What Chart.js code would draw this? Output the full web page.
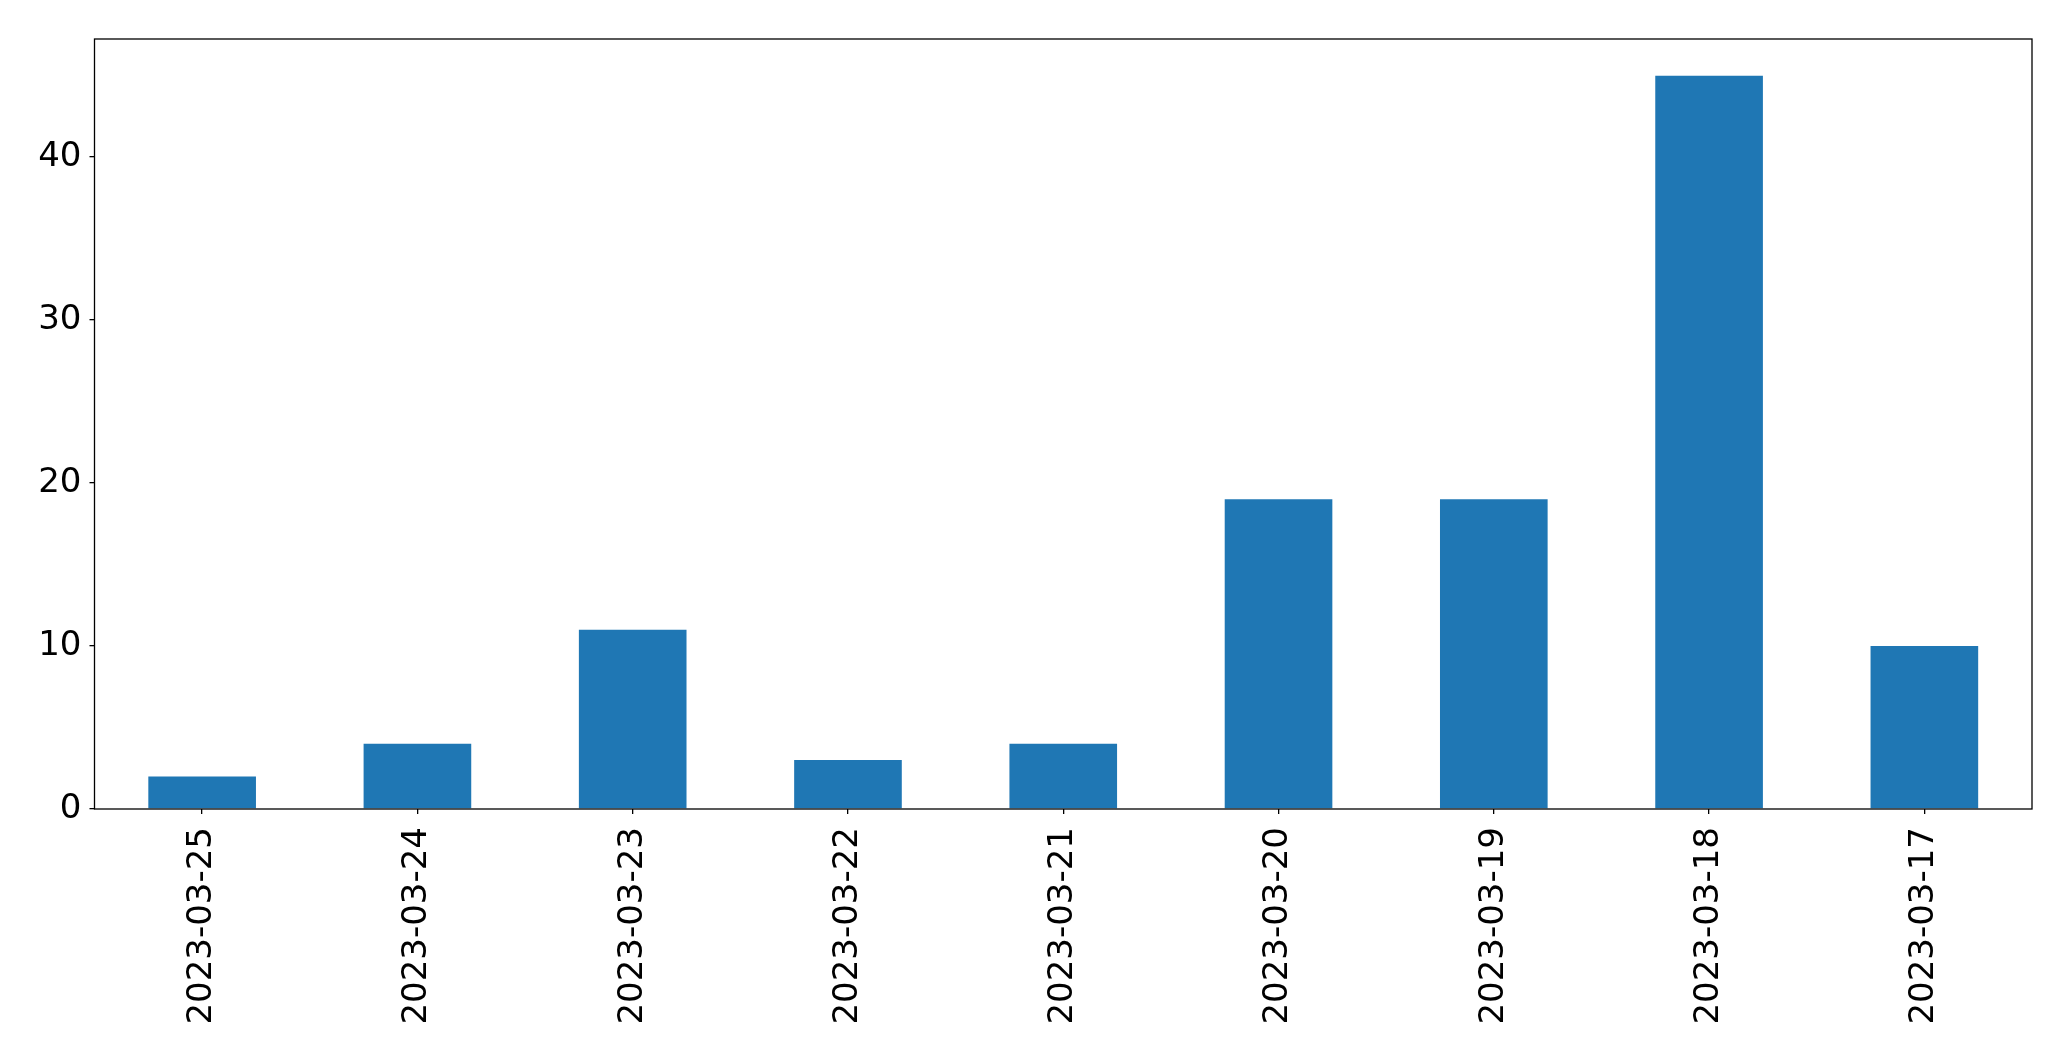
<!DOCTYPE html>
<html>
<head>
<meta charset="utf-8">
<title>Daily counts</title>
<script src="https://cdn.jsdelivr.net/npm/chart.js@4.4.0/dist/chart.umd.min.js"></script>
<style>
    html, body { margin: 0; padding: 0; background: #fff; }
    #wrap { width: 2071px; height: 1061px; }
</style>
</head>
<body>
<div id="wrap"><canvas id="chart" width="2071" height="1061"></canvas></div>
<script>
// --- DATA ---
const dates = ['2023-03-25', '2023-03-24', '2023-03-23', '2023-03-22', '2023-03-21',
               '2023-03-20', '2023-03-19', '2023-03-18', '2023-03-17'];
const counts = [2, 4, 11, 3, 4, 19, 19, 45, 10];
const yTicks = [0, 10, 20, 30, 40];
const yMax = 47.25;

// --- STYLE ---
const BAR_COLOR = '#1f77b4';
const FONT = { family: '"DejaVu Sans", sans-serif', size: 34 };

// Draws the full box round the plot area (matplotlib style spines)
const framePlugin = {
    id: 'frame',
    afterDraw(chart) {
        const { ctx, chartArea: a } = chart;
        ctx.save();
        ctx.strokeStyle = '#000';
        ctx.lineWidth = 1.3;
        ctx.strokeRect(a.left, a.top, a.right - a.left, a.bottom - a.top);
        ctx.restore();
    }
};

new Chart(document.getElementById('chart'), {
    type: 'bar',
    data: {
        labels: dates,
        datasets: [{
            data: counts,
            backgroundColor: BAR_COLOR,
            borderWidth: 0,
            barPercentage: 0.5,
            categoryPercentage: 1.0
        }]
    },
    options: {
        responsive: false,
        animation: false,
        layout: { padding: { top: 39, right: 39, left: 0, bottom: 0 } },
        plugins: { legend: { display: false }, tooltip: { enabled: false } },
        scales: {
            x: {
                offset: true,
                grid: { offset: false, drawOnChartArea: false, tickLength: 5, color: '#000', lineWidth: 1.3 },
                border: { display: false },
                ticks: {
                    color: '#000', font: FONT, padding: 13,
                    minRotation: 90, maxRotation: 90, autoSkip: false
                },
                afterFit(scale) { scale.height = 252; }
            },
            y: {
                min: 0,
                max: yMax,
                grid: { drawOnChartArea: false, tickLength: 5, color: '#000', lineWidth: 1.3 },
                border: { display: false },
                afterBuildTicks(scale) { scale.ticks = yTicks.map(v => ({ value: v })); },
                ticks: { color: '#000', font: FONT, padding: 8 },
                afterFit(scale) { scale.width = 94.5; }
            }
        }
    },
    plugins: [framePlugin]
});
</script>
</body>
</html>
